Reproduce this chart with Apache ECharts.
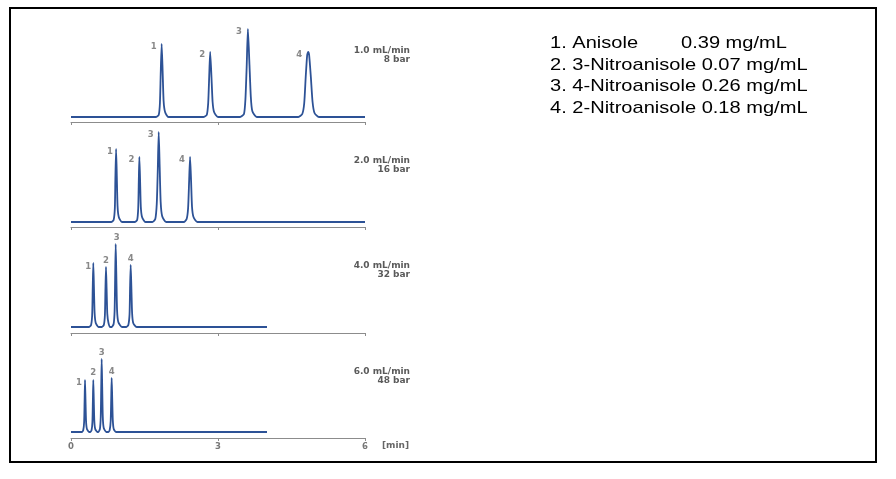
<!DOCTYPE html>
<html>
<head>
<meta charset="utf-8">
<script src="https://cdn.jsdelivr.net/npm/echarts@6/dist/echarts.min.js"></script>
<style>html,body{margin:0;padding:0;background:#fff;}#c{width:896px;height:479px;}</style>
</head>
<body>
<div id="c"></div>
<script>
// ---- data (time in min, signal in arbitrary units) ----
const xTicks = [0, 3, 6];
const trace1 = [[0,0],
  [1.73,0],[1.79,2],[1.815,14],[1.83,42],[1.85,73],[1.87,46],[1.89,16],[1.92,5],[1.99,0],
  [2.70,0],[2.77,2],[2.80,14],[2.82,40],[2.84,65],[2.865,42],[2.89,15],[2.92,5],[3.00,0],
  [3.45,0],[3.53,3],[3.56,18],[3.585,50],[3.61,88],[3.64,55],[3.67,20],[3.70,6],[3.79,0],
  [4.64,0],[4.72,3],[4.76,14],[4.79,40],[4.82,62],[4.84,65],[4.86,62],[4.895,40],[4.93,15],[4.97,4],[5.06,0],
  [6,0]];
const trace2 = [[0,0],
  [0.82,0],[0.87,2],[0.895,14],[0.905,42],[0.92,73],[0.935,46],[0.95,16],[0.975,5],[1.04,0],
  [1.30,0],[1.35,2],[1.372,14],[1.383,40],[1.395,65],[1.41,42],[1.425,15],[1.45,5],[1.52,0],
  [1.66,0],[1.72,3],[1.75,18],[1.77,50],[1.79,90],[1.81,55],[1.83,20],[1.86,6],[1.94,0],
  [2.30,0],[2.36,3],[2.39,14],[2.41,40],[2.43,65],[2.45,42],[2.47,15],[2.50,5],[2.58,0],
  [6,0]];
const trace3 = [[0,0],
  [0.37,0],[0.41,2],[0.432,12],[0.443,38],[0.455,64],[0.468,40],[0.482,14],[0.505,4],[0.56,0],
  [0.63,0],[0.67,2],[0.692,12],[0.702,36],[0.714,60],[0.727,38],[0.741,13],[0.765,4],[0.80,0],
  [0.83,0],[0.87,3],[0.89,16],[0.90,46],[0.912,83],[0.926,50],[0.94,17],[0.965,5],[1.04,0],
  [1.13,0],[1.17,2],[1.195,13],[1.205,38],[1.218,62],[1.232,40],[1.247,14],[1.27,4],[1.34,0],
  [4.0,0]];
const trace4 = [[0,0],
  [0.22,0],[0.25,2],[0.268,10],[0.277,30],[0.286,52],[0.296,32],[0.307,11],[0.325,3],[0.37,0],
  [0.39,0],[0.42,2],[0.437,10],[0.446,30],[0.455,52],[0.465,32],[0.476,11],[0.494,3],[0.54,0],
  [0.56,0],[0.59,3],[0.607,15],[0.616,42],[0.626,73],[0.637,45],[0.649,15],[0.668,4],[0.72,0],
  [0.76,0],[0.79,2],[0.81,11],[0.82,32],[0.83,54],[0.841,34],[0.853,12],[0.872,3],[0.92,0],
  [4.0,0]];
const peakNames = ['1', '2', '3', '4'];
const flowRates = ['1.0 mL/min', '2.0 mL/min', '4.0 mL/min', '6.0 mL/min'];
const pressures = ['8 bar', '16 bar', '32 bar', '48 bar'];
const compounds = ['1. Anisole', '2. 3-Nitroanisole', '3. 4-Nitroanisole', '4. 2-Nitroanisole'];
const concentrations = ['0.39 mg/mL', '0.07 mg/mL', '0.26 mg/mL', '0.18 mg/mL'];
const unitLabel = '[min]';

// ---- layout / style ----
const traces = [trace1, trace2, trace3, trace4];
const gridTops = [22, 127, 233, 338];
const yMins = [-5, -5, -6, -6];
const labelOffsets = [
  [[-8,3],[-8,3],[-9,3],[-9,3]],
  [[-6,3],[-8,3],[-8,3],[-8,3]],
  [[-5,4],[0,-6],[1,-6],[0,-6]],
  [[-6,3],[0,-7],[0,-6],[0,-6]]
];
const condY = [[51,60],[161,170],[266,275],[372,381]];
const lineColor = '#2d5296';
const axisColor = '#8c8c8c';
const grayText = '#6a6a6a';

function apexes(tr) {
  const out = [];
  for (let i = 1; i < tr.length - 1; i++) {
    if (tr[i][1] > tr[i-1][1] && tr[i][1] > tr[i+1][1]) out.push(tr[i]);
  }
  return out;
}

const grid = [], xAxis = [], yAxis = [], series = [];
traces.forEach((tr, k) => {
  grid.push({left: 71, width: 294, top: gridTops[k], height: 100, outerBoundsMode: 'none'});
  xAxis.push({
    type: 'value', gridIndex: k, min: xTicks[0], max: xTicks[xTicks.length-1],
    interval: xTicks[1] - xTicks[0],
    axisLine: {show: true, onZero: false, lineStyle: {color: axisColor, width: 1}},
    axisTick: {show: true, length: 3, lineStyle: {color: axisColor}},
    splitLine: {show: false},
    axisLabel: {show: k === 3, color: '#777', fontSize: 8.5, fontWeight: 'bold', margin: 4,
      fontFamily: 'DejaVu Sans'}
  });
  yAxis.push({type: 'value', gridIndex: k, min: yMins[k], max: yMins[k] + 100, show: false});
  series.push({
    type: 'line', xAxisIndex: k, yAxisIndex: k, data: tr, showSymbol: false, smooth: 0.2,
    lineStyle: {color: lineColor, width: 1.8}, silent: true
  });
  const ap = apexes(tr);
  series.push({
    type: 'scatter', xAxisIndex: k, yAxisIndex: k, symbolSize: 1,
    itemStyle: {color: 'transparent'}, silent: true,
    data: ap.map((p, i) => ({
      value: p,
      label: {show: true, formatter: peakNames[i], position: 'inside', offset: labelOffsets[k][i],
        color: grayText, fontSize: 8.5, fontWeight: 'bold', fontFamily: 'DejaVu Sans'}
    }))
  });
});

const graphic = [];
graphic.push({type: 'rect', shape: {x: 10, y: 8, width: 866, height: 454},
  style: {fill: 'none', stroke: '#000', lineWidth: 2}, silent: true});
flowRates.forEach((f, k) => {
  graphic.push({type: 'text', x: 410, y: condY[k][0], style: {text: f, align: 'right', verticalAlign: 'middle',
    font: 'bold 9px "DejaVu Sans"', fill: '#5a5a5a'}});
  graphic.push({type: 'text', x: 410, y: condY[k][1], style: {text: pressures[k], align: 'right', verticalAlign: 'middle',
    font: 'bold 9px "DejaVu Sans"', fill: '#5a5a5a'}});
});
graphic.push({type: 'text', x: 409, y: 446, style: {text: unitLabel, align: 'right', verticalAlign: 'middle',
  font: 'bold 9px "DejaVu Sans"', fill: '#666'}});
compounds.forEach((c, i) => {
  const y = 43.5 + i * 21.6;
  if (i === 0) {
    graphic.push({type: 'text', x: 550, y: y, scaleX: 1.18, style: {text: c, verticalAlign: 'middle',
      font: '17px "Liberation Sans"', fill: '#000'}});
    graphic.push({type: 'text', x: 681, y: y, scaleX: 1.18, style: {text: concentrations[i], verticalAlign: 'middle',
      font: '17px "Liberation Sans"', fill: '#000'}});
  } else {
    graphic.push({type: 'text', x: 550, y: y, scaleX: 1.18, style: {text: c + ' ' + concentrations[i], verticalAlign: 'middle',
      font: '17px "Liberation Sans"', fill: '#000'}});
  }
});

const chart = echarts.init(document.getElementById('c'), null, {renderer: 'canvas'});
chart.setOption({animation: false, backgroundColor: '#fff', grid, xAxis, yAxis, series, graphic});
</script>
</body>
</html>
